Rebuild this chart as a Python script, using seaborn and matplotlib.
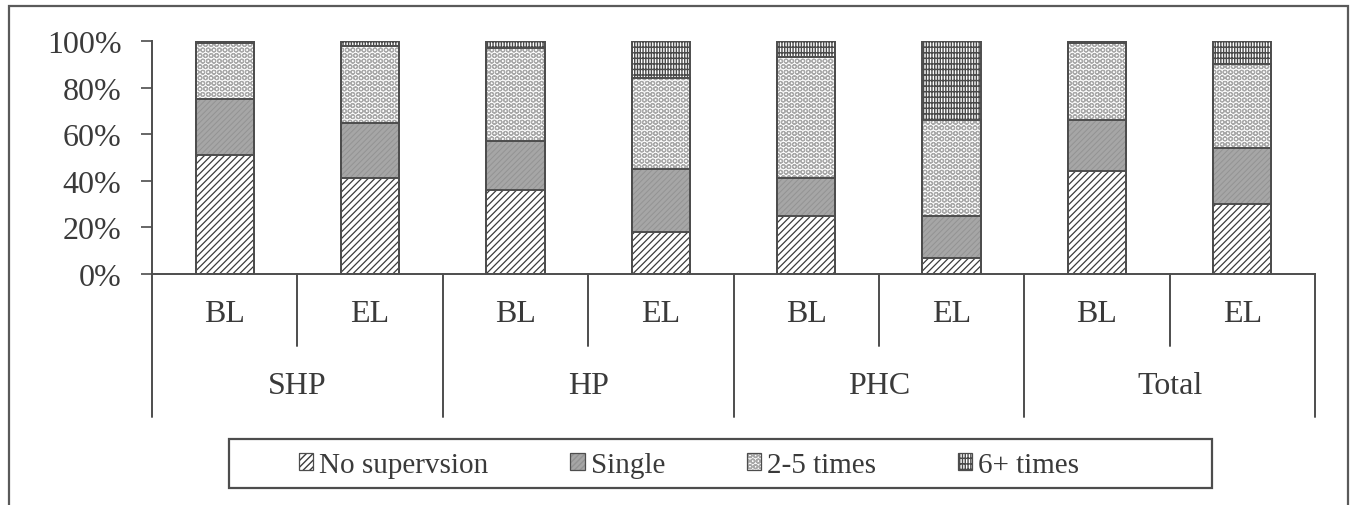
import numpy as np
import pandas as pd
import matplotlib
matplotlib.use("Agg")
import matplotlib.pyplot as plt
from matplotlib.patches import Patch, Rectangle
import seaborn as sns

# ---- data -------------------------------------------------------------
groups = ["SHP", "HP", "PHC", "Total"]
phases = ["BL", "EL"]
series_names = ["No supervsion", "Single", "2-5 times", "6+ times"]
no_supervision = [51, 41, 36, 18, 25, 7, 44, 30]
single = [24, 24, 21, 27, 16, 18, 22, 24]
two_to_five = [24, 33, 40, 39, 52, 41, 33, 36]
six_plus = [1, 2, 3, 16, 7, 34, 1, 10]
y_ticks = [0, 20, 40, 60, 80, 100]

# ---- styling ----------------------------------------------------------
sns.set_theme(style="white")
plt.rcParams["font.family"] = ["Liberation Serif", "DejaVu Serif"]
text_col = "#3a3a3a"
line_col = "#4d4d4d"

# fill colour, hatch pattern, hatch colour, hatch line width
styles = [
    dict(facecolor="#ffffff", hatch="/////", hatchcolor="#3c3c3c", hlw=0.9),   # No supervision
    dict(facecolor="#a6a6a6", hatch="//////", hatchcolor="#939393", hlw=0.7),  # Single
    dict(facecolor="#fbfbfb", hatch="OOO", hatchcolor="#a8a8a8", hlw=0.8),     # 2-5 times
    dict(facecolor="#ffffff", hatch="+++|||", hatchcolor="#4a4a4a", hlw=1.0),  # 6+ times
]

bar_ids = [f"{g} {p}" for g in groups for p in phases]
values = np.array([no_supervision, single, two_to_five, six_plus], dtype=float)
cum = np.cumsum(values, axis=0)

fig = plt.figure(figsize=(13.56, 5.06), dpi=100)
fig.patch.set_facecolor("white")
ax = fig.add_axes([152 / 1356, 1 - 275 / 506, (1315 - 152) / 1356, (275 - 42) / 506])

# stacked fills: tallest cumulative level first, lower levels drawn over it
for level in range(3, -1, -1):
    s = styles[level]
    plt.rcParams["hatch.linewidth"] = s["hlw"]
    df = pd.DataFrame({"bar": bar_ids, "top": cum[level]})
    n_before = len(ax.patches)
    sns.barplot(data=df, x="bar", y="top", order=bar_ids, width=0.4,
                errorbar=None, color=s["facecolor"], ax=ax, saturation=1)
    for p in ax.patches[n_before:]:
        p.set_facecolor(s["facecolor"])
        p.set_edgecolor(s["hatchcolor"])   # hatch takes the edge colour
        p.set_linewidth(0)
        p.set_hatch(s["hatch"])
        if hasattr(p, "set_hatch_linewidth"):
            p.set_hatch_linewidth(s["hlw"])

# segment outlines
for level in range(4):
    df = pd.DataFrame({"bar": bar_ids, "top": cum[level]})
    n_before = len(ax.patches)
    sns.barplot(data=df, x="bar", y="top", order=bar_ids, width=0.4,
                errorbar=None, fill=False, color=line_col, ax=ax)
    for p in ax.patches[n_before:]:
        p.set_facecolor("none")
        p.set_edgecolor(line_col)
        p.set_linewidth(1.4)
        p.set_hatch(None)

ax.set_ylim(0, 100)
ax.set_xlim(-0.5, len(bar_ids) - 0.5)
ax.set_yticks(y_ticks)
ax.set_yticklabels([f"{t}%" for t in y_ticks], fontsize=23, color=text_col)
ax.set_xticks([])
ax.set_xlabel("")
ax.set_ylabel("")
ax.tick_params(axis="y", direction="out", length=8, width=1.2, color=line_col,
               pad=14, left=True)
for side in ("top", "right"):
    ax.spines[side].set_visible(False)
for side in ("left", "bottom"):
    ax.spines[side].set_color(line_col)
    ax.spines[side].set_linewidth(1.4)

# two-level category axis
trans = ax.get_xaxis_transform()
for i, bid in enumerate(bar_ids):
    ax.text(i, -0.17, bid.split()[1], transform=trans, ha="center", va="center",
            fontsize=23, color=text_col)
for gi, g in enumerate(groups):
    ax.text(2 * gi + 0.5, -0.48, g, transform=trans, ha="center", va="center",
            fontsize=23, color=text_col)
    ax.plot([2 * gi + 0.5] * 2, [0, -0.31], transform=trans, color=line_col,
            lw=1.4, clip_on=False)
for x in np.arange(-0.5, len(bar_ids), 2):
    ax.plot([x, x], [0, -0.615], transform=trans, color=line_col, lw=1.4,
            clip_on=False)

# legend in a square box under the chart: each key is a hatched fill plus an outline
handles = []
for s in styles:
    plt.rcParams["hatch.linewidth"] = s["hlw"]
    fill = Patch(facecolor=s["facecolor"], edgecolor=s["hatchcolor"],
                 hatch=s["hatch"], linewidth=0)
    outline = Patch(facecolor="none", edgecolor=line_col, linewidth=0.9)
    handles.append((fill, outline))
leg = fig.legend(handles=handles, labels=series_names, loc="center",
                 bbox_to_anchor=(689 / 1356, 1 - 466 / 506), ncol=4,
                 frameon=False, fontsize=21, handlelength=0.5, handleheight=0.5,
                 handletextpad=0.2, columnspacing=2.8)
for t in leg.get_texts():
    t.set_color(text_col)
fig.patches.append(Rectangle((229 / 1356, 1 - 489 / 506), (1212 - 229) / 1356,
                             49 / 506, transform=fig.transFigure, fill=False,
                             edgecolor=line_col, lw=1.6))

# outer chart frame
fig.patches.append(Rectangle((9 / 1356, -0.05), (1348 - 9) / 1356, 1 - 7 / 506 + 0.05,
                             transform=fig.transFigure, fill=False,
                             edgecolor="#5a5a5a", lw=1.6))

fig.savefig("out.png", dpi=100, facecolor="white")
